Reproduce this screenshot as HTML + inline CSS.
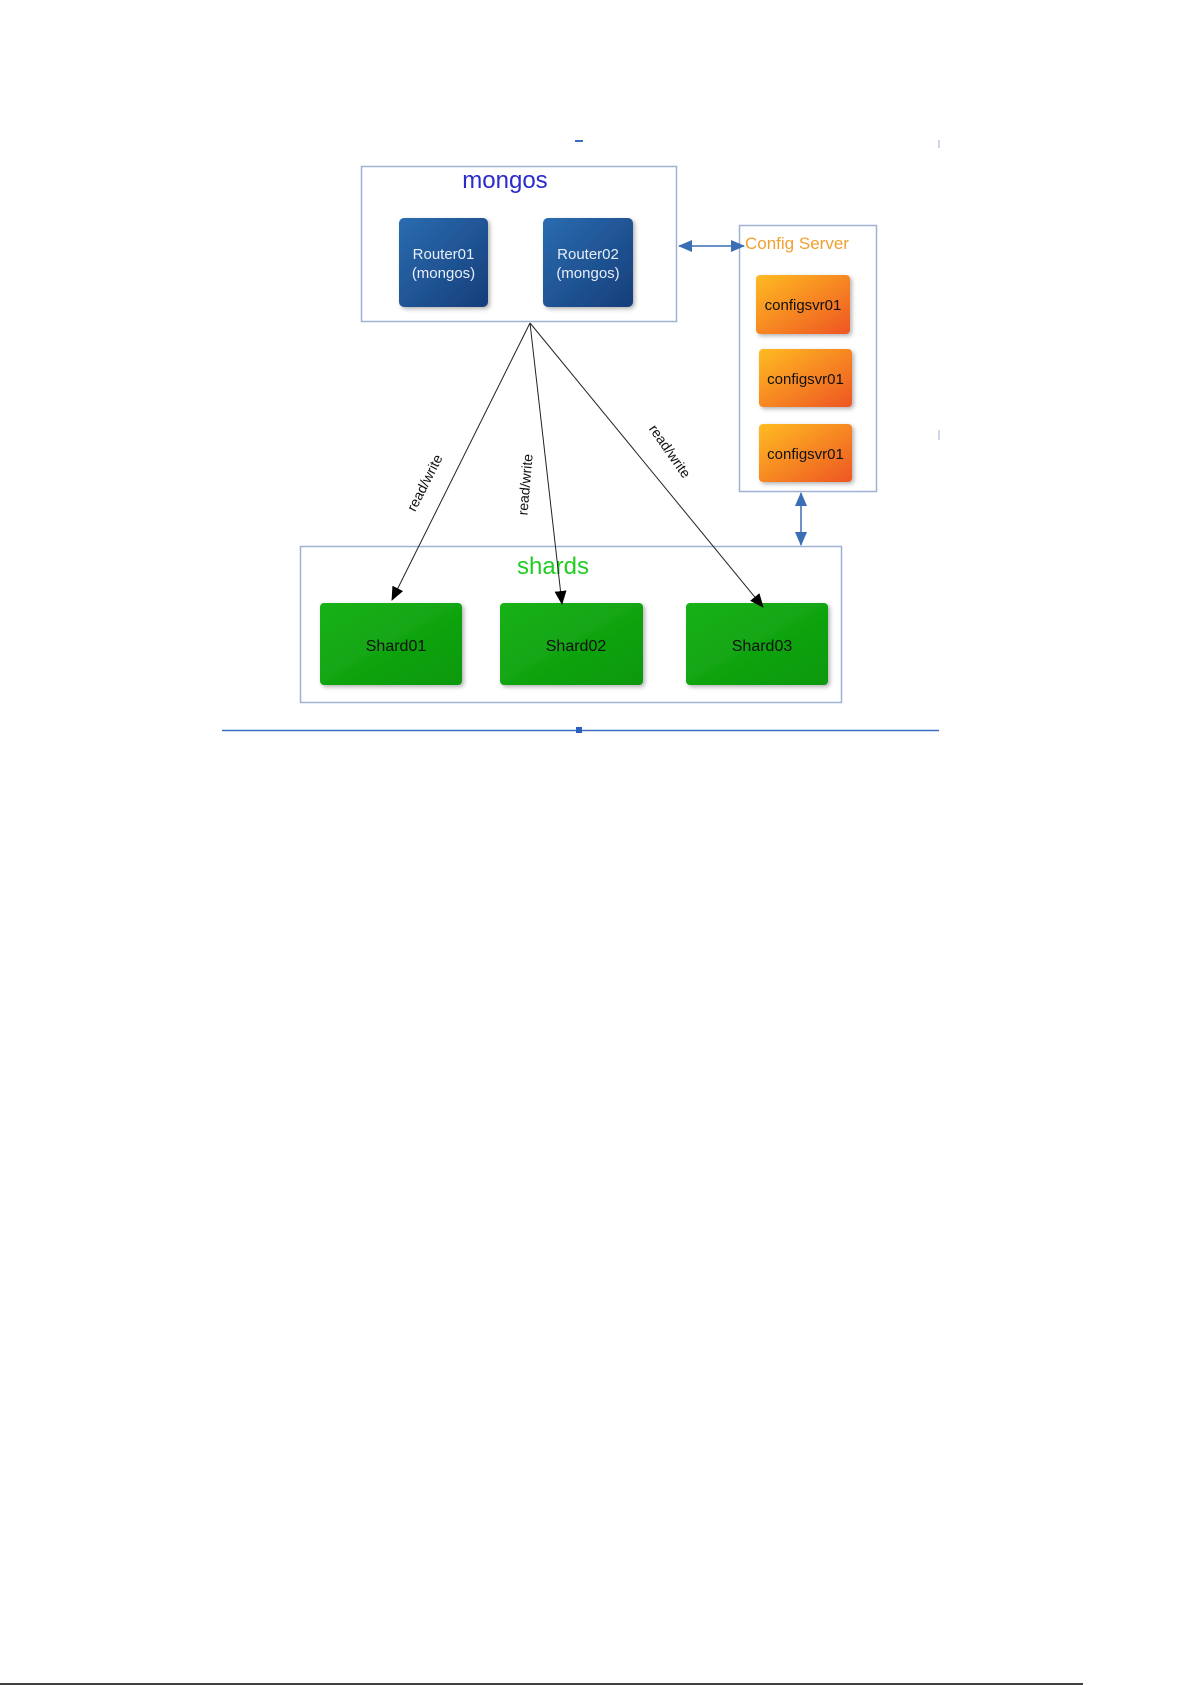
<!DOCTYPE html>
<html><head><meta charset="utf-8"><style>
html,body{margin:0;padding:0;background:#fff;}
body{width:1192px;height:1685px;position:relative;overflow:hidden;font-family:"Liberation Sans",sans-serif;}
</style></head><body>
<svg width="1192" height="1685" xmlns="http://www.w3.org/2000/svg" style="position:absolute;left:0;top:0">
<defs>
<linearGradient id="gb" x1="0" y1="0" x2="1" y2="1"><stop offset="0" stop-color="#2a6cb0"/><stop offset="1" stop-color="#163e7a"/></linearGradient>
<linearGradient id="go" x1="0" y1="0" x2="1" y2="1"><stop offset="0" stop-color="#ffbb22"/><stop offset="1" stop-color="#ee5522"/></linearGradient>
<linearGradient id="gg" x1="0" y1="0" x2="1" y2="1"><stop offset="0" stop-color="#19b219"/><stop offset="1" stop-color="#0a980a"/></linearGradient>
<filter id="sh" x="-10%" y="-10%" width="130%" height="130%"><feDropShadow dx="2" dy="2" stdDeviation="2" flood-color="#000" flood-opacity="0.3"/></filter>
<marker id="ab" markerWidth="14" markerHeight="12" refX="13" refY="6" orient="auto" markerUnits="userSpaceOnUse"><path d="M0,0 L14,6 L0,12 z" fill="#000"/></marker>
<marker id="bl" markerWidth="14" markerHeight="12" refX="13" refY="6" orient="auto-start-reverse" markerUnits="userSpaceOnUse"><path d="M0,0 L14,6 L0,12 z" fill="#3a6fb5"/></marker>
</defs>
<rect x="575" y="140" width="8" height="2" fill="#3a6fc0"/>
<line x1="939" y1="140" x2="939" y2="148" stroke="#9fb2d4" stroke-width="1"/>
<line x1="939" y1="430" x2="939" y2="440" stroke="#9fb2d4" stroke-width="1"/>
<line x1="222" y1="730.5" x2="939" y2="730.5" stroke="#3a6fc0" stroke-width="1.5"/>
<rect x="576" y="727" width="6" height="6" fill="#2a5fc0"/>
<rect x="361.5" y="166.5" width="315" height="155" fill="#fff" stroke="#9fb2d4" stroke-width="1.5"/>
<text x="505" y="188" font-size="24" fill="#2b2bcc" text-anchor="middle">mongos</text>
<rect x="399" y="218" width="89" height="89" rx="5" fill="url(#gb)" filter="url(#sh)"/>
<rect x="543" y="218" width="90" height="89" rx="5" fill="url(#gb)" filter="url(#sh)"/>
<text x="443.5" y="259" font-size="15" fill="#e8eef8" text-anchor="middle">Router01</text>
<text x="443.5" y="278" font-size="15" fill="#e8eef8" text-anchor="middle">(mongos)</text>
<text x="588" y="259" font-size="15" fill="#e8eef8" text-anchor="middle">Router02</text>
<text x="588" y="278" font-size="15" fill="#e8eef8" text-anchor="middle">(mongos)</text>
<rect x="739.5" y="225.5" width="137" height="266" fill="#fff" stroke="#9fb2d4" stroke-width="1.5"/>
<text x="745" y="249" font-size="17" fill="#f0a030">Config Server</text>
<rect x="756" y="275" width="94" height="59" rx="4" fill="url(#go)" filter="url(#sh)"/>
<rect x="759" y="349" width="93" height="58" rx="4" fill="url(#go)" filter="url(#sh)"/>
<rect x="759" y="424" width="93" height="58" rx="4" fill="url(#go)" filter="url(#sh)"/>
<text x="803" y="310" font-size="15" fill="#111" text-anchor="middle">configsvr01</text>
<text x="805.5" y="384" font-size="15" fill="#111" text-anchor="middle">configsvr01</text>
<text x="805.5" y="459" font-size="15" fill="#111" text-anchor="middle">configsvr01</text>
<line x1="679" y1="246" x2="744" y2="246" stroke="#3a6fb5" stroke-width="1.5" marker-start="url(#bl)" marker-end="url(#bl)"/>
<line x1="801" y1="493" x2="801" y2="545" stroke="#3a6fb5" stroke-width="1.5" marker-start="url(#bl)" marker-end="url(#bl)"/>
<rect x="300.5" y="546.5" width="541" height="156" fill="#fff" stroke="#9fb2d4" stroke-width="1.5"/>
<text x="553" y="574" font-size="24" fill="#22cc22" text-anchor="middle">shards</text>
<rect x="320" y="603" width="142" height="82" rx="4" fill="url(#gg)" filter="url(#sh)"/>
<rect x="500" y="603" width="143" height="82" rx="4" fill="url(#gg)" filter="url(#sh)"/>
<rect x="686" y="603" width="142" height="82" rx="4" fill="url(#gg)" filter="url(#sh)"/>
<text x="396" y="651" font-size="16" fill="#111" text-anchor="middle">Shard01</text>
<text x="576" y="651" font-size="16" fill="#111" text-anchor="middle">Shard02</text>
<text x="762" y="651" font-size="16" fill="#111" text-anchor="middle">Shard03</text>
<line x1="530" y1="323" x2="392" y2="600" stroke="#222" stroke-width="1" marker-end="url(#ab)"/>
<line x1="530" y1="323" x2="562" y2="604" stroke="#222" stroke-width="1" marker-end="url(#ab)"/>
<line x1="530" y1="323" x2="763" y2="607" stroke="#222" stroke-width="1" marker-end="url(#ab)"/>
<text x="429" y="485" font-size="14" fill="#111" text-anchor="middle" transform="rotate(-63 429 485)">read/write</text>
<text x="530" y="485" font-size="14" fill="#111" text-anchor="middle" transform="rotate(-85 530 485)">read/write</text>
<text x="666" y="454" font-size="14" fill="#111" text-anchor="middle" transform="rotate(55 666 454)">read/write</text>
<line x1="0" y1="1684" x2="1083" y2="1684" stroke="#000" stroke-width="1.5"/>
</svg>
</body></html>
